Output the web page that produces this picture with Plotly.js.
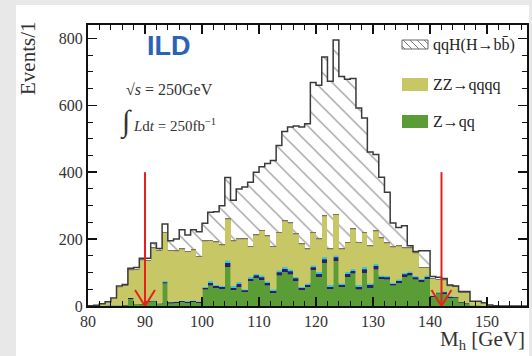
<!DOCTYPE html>
<html>
<head>
<meta charset="utf-8">
<script src="https://cdn.plot.ly/plotly-3.0.1.min.js"></script>
<style>html,body{margin:0;padding:0;background:#e8e8e8;}#chart{width:532px;height:356px;}</style>
</head>
<body>
<div id="chart"></div>
<script>
// Bin low edges (1 GeV bins)
const binLow = [80,81,82,83,84,85,86,87,88,89,90,91,92,93,94,95,96,97,98,99,100,101,102,103,104,105,106,107,108,109,110,111,112,113,114,115,116,117,118,119,120,121,122,123,124,125,126,127,128,129,130,131,132,133,134,135,136,137,138,139,140,141,142,143,144,145,146,147,148,149,150,151,152,153,154,155,156];
// Z->qq (green)
const zqq = [0,0,0,2,3,2,3,22,6,5, 12,14,6,68,8,10,12,10,12,10, 50,62,55,52,118,48,58,42,75,85, 78,62,40,92,102,95,75,48,58,108, 88,130,52,136,58,88,98,50,100,55, 110,82,80,62,70,88,92,80,72,82, 28,38,36,25,24,10,8,2,2,1, 0,0,0,0,0,0,0];
// small backgrounds (navy / cyan caps)
const bkgNavy = [0,0,0,0,0,1,1,2,1,1, 2,2,2,3,3,3,3,3,3,3, 5,8,5,5,11,7,8,5,7,7, 8,7,6,9,9,9,8,6,6,8, 8,10,6,10,6,8,8,8,10,8, 10,6,6,5,6,7,7,6,6,6, 2,2,5,3,2,1,1,0,0,0, 0,0,0,0,0,0,0];
const bkgCyan = [0,0,0,0,0,0,0,1,0,0, 1,1,0,5,1,1,1,2,2,1, 3,5,3,3,8,5,6,3,5,5, 6,5,4,6,6,6,5,4,4,6, 6,7,5,6,4,6,6,5,7,5, 7,4,4,3,4,5,5,4,4,4, 2,2,3,2,2,1,1,0,0,0, 0,0,0,0,0,0,0];
// ZZ->qqqq (yellow)
const zzqqqq = [1,2,6,10,18,53,56,82,102,131, 120,156,157,143,153,149,153,147,150,133, 135,120,127,122,122,134,128,150,90,115, 133,135,127,112,137,137,126,126,101,97, 98,121,106,121,101,87,117,126,102,111, 97,110,97,105,99,72,68,67,33,23, 49,37,33,29,29,27,29,12,12,9, 3,1,0,0,0,0,0];
// other thin background on top of ZZ
const bkgOther = [0,0,0,0,1,2,2,3,3,3, 3,3,3,3,3,3,3,3,3,3, 3,3,3,3,3,3,3,3,3,3, 3,3,3,3,3,3,3,3,3,3, 3,3,3,3,3,3,3,3,3,3, 3,3,3,3,3,3,3,3,3,3, 3,3,3,3,3,3,3,0,0,0, 0,0,0,0,0,0,0];
// qqH(H->bb) (hatched)
const qqHbb = [0,0,1,1,2,2,2,3,3,3, 5,12,4,23,27,34,56,47,58,72, 51,82,89,115,122,119,147,153,190,185, 188,214,255,258,265,285,321,348,373,446, 457,473,500,519,514,486,448,400,340,278, 226,180,150,70,53,65,5,3,47,47, 4,4,2,1,0,1,1,0,0,0, 0,0,0,0,0,0,0];
// cut positions (red arrows)
const cuts = [90, 142];
const xTicks = [80,90,100,110,120,130,140,150];
const yTicks = [0,200,400,600,800];
const legendNames = ['qqH(H→bb̄)', 'ZZ→qqqq', 'Z→qq'];

const SERIF = 'Liberation Serif, Times New Roman, serif';
const C_ZZ = '#c8c766', C_Z = '#5a9c35', C_NAVY = '#2b1a78', C_CYAN = '#3cc8d0', C_OTH = '#7d7466';

function barTrace(y, color, lw) {
  return {type:'bar', x: binLow, y: y, offset: 0, width: 1,
    marker:{color: color, line:{color: color, width: lw}}, hoverinfo:'skip'};
}
const traces = [
  barTrace(zqq, C_Z, 0.6),
  barTrace(bkgNavy, C_NAVY, 0.3),
  barTrace(bkgCyan, C_CYAN, 0.3),
  barTrace(zzqqqq, C_ZZ, 0.6),
  barTrace(bkgOther, C_OTH, 0.3),
  {type:'bar', x: binLow, y: qqHbb, offset:0, width:1, hoverinfo:'skip',
   marker:{color:'white', line:{width:0},
     pattern:{shape:'\\', fgcolor:'#8a8a8a', bgcolor:'white', size:12, solidity:0.1}}}
];
// total outline from the stacked components
const total = binLow.map((_, i) => zqq[i]+bkgNavy[i]+bkgCyan[i]+zzqqqq[i]+bkgOther[i]+qqHbb[i]);
const edges = binLow.concat([binLow[binLow.length-1]+1]);
traces.push({type:'scatter', mode:'lines', x: edges, y: total.concat([total[total.length-1]]),
  line:{shape:'hv', color:'#3a3a3a', width:1.5}, hoverinfo:'skip'});

// pixel -> paper helpers (plot area: x 88..527, y 25..306)
const L = 88, R = 527, T = 25, B = 306;
const px = v => (v - L) / (R - L);
const py = v => (B - v) / (B - T);

const shapes = [
  {type:'rect', xref:'paper', yref:'paper', x0: px(16), x1: px(529), y0: py(380), y1: py(5),
   fillcolor:'white', line:{width:0}, layer:'below'}
];
cuts.forEach(c => {
  shapes.push({type:'line', xref:'x', yref:'y', x0:c, x1:c, y0:400, y1:0, line:{color:'#e8201c', width:2}});
  shapes.push({type:'line', xref:'x', yref:'y', x0:c-1.75, x1:c, y0:48, y1:0, line:{color:'#e8201c', width:2}});
  shapes.push({type:'line', xref:'x', yref:'y', x0:c+1.75, x1:c, y0:48, y1:0, line:{color:'#e8201c', width:2}});
});
// legend swatches
const swX0 = 402, swX1 = 428;
shapes.push({type:'rect', xref:'paper', yref:'paper', x0:px(swX0), x1:px(swX1), y0:py(49), y1:py(40), fillcolor:'white', line:{color:'#666', width:1}});
[[403,40,412,49],[410,40,419,49],[417,40,426,49],[424,40,428,44],[402,46,405,49]].forEach(s => {
  shapes.push({type:'line', xref:'paper', yref:'paper', x0:px(s[0]), y0:py(s[1]), x1:px(s[2]), y1:py(s[3]), line:{color:'#777', width:1}});
});
shapes.push({type:'rect', xref:'paper', yref:'paper', x0:px(swX0), x1:px(swX1), y0:py(91), y1:py(78), fillcolor:C_ZZ, line:{width:0}});
shapes.push({type:'rect', xref:'paper', yref:'paper', x0:px(swX0), x1:px(swX1), y0:py(128), y1:py(115), fillcolor:C_Z, line:{width:0}});

const annotations = [
  {xref:'paper', yref:'paper', x:px(431), y:py(45), xanchor:'left', yanchor:'middle', showarrow:false, text:legendNames[0], font:{family:SERIF, size:16, color:'#222'}},
  {xref:'paper', yref:'paper', x:px(431), y:py(85), xanchor:'left', yanchor:'middle', showarrow:false, text:legendNames[1], font:{family:SERIF, size:16, color:'#222'}},
  {xref:'paper', yref:'paper', x:px(431), y:py(122), xanchor:'left', yanchor:'middle', showarrow:false, text:legendNames[2], font:{family:SERIF, size:16, color:'#222'}},
  {xref:'paper', yref:'paper', x:px(169), y:py(46), xanchor:'center', yanchor:'middle', showarrow:false, text:'<b>ILD</b>', font:{family:'Liberation Sans, Arial, sans-serif', size:27, color:'#2a62b4'}},
  {xref:'paper', yref:'paper', x:px(169), y:py(89), xanchor:'center', yanchor:'middle', showarrow:false, text:'√<i>s</i> = 250GeV', font:{family:SERIF, size:16, color:'#333'}},
  {xref:'paper', yref:'paper', x:px(168), y:py(122), xanchor:'center', yanchor:'middle', showarrow:false, text:"<span style='font-size:30px'>∫</span> <i>L</i>d<i>t</i> = 250fb<sup>−1</sup>", font:{family:SERIF, size:15, color:'#333'}},
  {xref:'paper', yref:'paper', x:px(28), y:py(97), xanchor:'center', yanchor:'bottom', textangle:-90, showarrow:false, text:'Events/1', font:{family:SERIF, size:21, color:'#333'}},
  {xref:'paper', yref:'paper', x:1.0, y:py(355), xanchor:'right', yanchor:'bottom', showarrow:false, text:'M<sub>h</sub> [GeV]', font:{family:SERIF, size:21, color:'#333'}}
];

const axisCommon = {
  ticks:'inside', ticklen:9, tickwidth:1.5, tickcolor:'#111',
  showline:true, linewidth:2, linecolor:'#111', mirror:'ticks',
  showgrid:false, zeroline:false, fixedrange:true,
  tickfont:{family:SERIF, size:16, color:'#333'}
};
const layout = {
  width:532, height:356,
  margin:{l:L, r:532-R, t:T, b:356-B, pad:0},
  paper_bgcolor:'#e8e8e8', plot_bgcolor:'white',
  barmode:'stack', bargap:0, showlegend:false,
  xaxis: Object.assign({}, axisCommon, {range:[80,157], tickmode:'array', tickvals:xTicks,
    minor:{dtick:2, tick0:80, ticks:'inside', ticklen:5, tickwidth:1, tickcolor:'#111'}}),
  yaxis: Object.assign({}, axisCommon, {range:[0,840], tickmode:'array', tickvals:yTicks,
    minor:{dtick:50, tick0:0, ticks:'inside', ticklen:5, tickwidth:1, tickcolor:'#111'}}),
  shapes: shapes,
  annotations: annotations
};
Plotly.newPlot('chart', traces, layout, {staticPlot:true, displayModeBar:false});
</script>
</body>
</html>
